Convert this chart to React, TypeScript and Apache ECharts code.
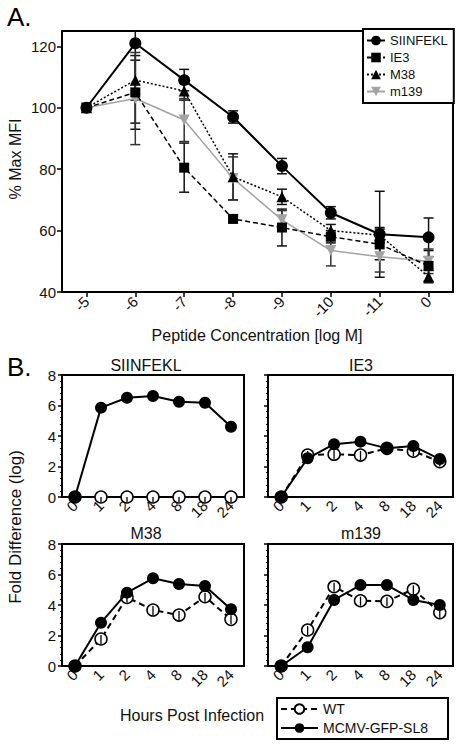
import React, { useEffect, useRef } from 'react';
import * as echarts from 'echarts';

// ---------- Panel A data ----------
const concCats = ['-5', '-6', '-7', '-8', '-9', '-10', '-11', '0'];
const siinfeklMean = [100, 121, 109, 97, 81, 65.8, 58.8, 57.8];
const siinfeklErr = [0, 26, 3.5, 2, 2.5, 2, 14, 6.3];
const ie3Mean = [100, 105, 80.5, 63.8, 61, 58, 55.5, 48.5];
const ie3Err = [0, 12, 8, 1, 6, 2, 5, 5];
const m38Mean = [100, 109, 105.5, 77.5, 71, 60, 58.5, 45];
const m38Err = [0, 6.5, 3, 7.5, 2.5, 2, 2.5, 2];
const m139Mean = [100, 103, 96, 77, 63.5, 53.5, 51.5, 50];
const m139Err = [0, 15, 7, 7, 3, 5, 5, 4];
const aTicks = [40, 60, 80, 100, 120];

// ---------- Panel B data ----------
const hourCats = ['0', '1', '2', '4', '8', '18', '24'];
const siinfeklWT = [0, 0, 0, 0, 0, 0, 0];
const siinfeklSL8 = [0, 5.86, 6.51, 6.62, 6.25, 6.18, 4.61];
const ie3WT = [0, 2.75, 2.8, 2.75, 3.19, 3.0, 2.32];
const ie3SL8 = [0, 2.54, 3.46, 3.63, 3.19, 3.34, 2.49];
const m38WT = [0, 1.77, 4.5, 3.67, 3.34, 4.54, 3.06];
const m38SL8 = [0, 2.84, 4.81, 5.75, 5.38, 5.25, 3.72];
const m139WT = [0, 2.36, 5.2, 4.28, 4.24, 5.03, 3.5];
const m139SL8 = [0, 1.23, 4.33, 5.31, 5.31, 4.33, 4.0];

const FONT = 'Liberation Sans, Arial, Helvetica, sans-serif';
const GRAY = '#a3a3a3';

function errorSeries(mean: number[], err: number[], color: string) {
  return {
    type: 'custom',
    xAxisIndex: 0,
    yAxisIndex: 0,
    silent: true,
    z: 1,
    data: mean.map((m, i) => [i, m, err[i]]),
    encode: { x: 0, y: 1 },
    renderItem: (params: any, api: any) => {
      const x = api.value(0);
      const m = api.value(1);
      const e = api.value(2);
      if (!e) return null;
      const hiV = Math.min(m + e, 125);
      const loV = Math.max(m - e, 40);
      const pHi = api.coord([x, hiV]);
      const pLo = api.coord([x, loV]);
      const st = { stroke: color, lineWidth: 1.5 };
      const children: any[] = [
        { type: 'line', shape: { x1: pHi[0], y1: pHi[1], x2: pLo[0], y2: pLo[1] }, style: st },
      ];
      if (m + e <= 125) {
        children.push({ type: 'line', shape: { x1: pHi[0] - 5, y1: pHi[1], x2: pHi[0] + 5, y2: pHi[1] }, style: st });
      }
      children.push({ type: 'line', shape: { x1: pLo[0] - 5, y1: pLo[1], x2: pLo[0] + 5, y2: pLo[1] }, style: st });
      return { type: 'group', children };
    },
  };
}

// small error-bar stroke drawn inside each open WT circle
function wtTickSeries(values: number[], idx: number) {
  return {
    type: 'custom',
    xAxisIndex: idx,
    yAxisIndex: idx,
    silent: true,
    z: 3,
    clip: false,
    data: values.map((v, i) => [i, v]),
    encode: { x: 0, y: 1 },
    renderItem: (params: any, api: any) => {
      const x = api.value(0);
      const v = api.value(1);
      if (x === 0) return null;
      const p = api.coord([x, v]);
      const up = v === 0 ? 0 : 4;
      return {
        type: 'line',
        shape: { x1: p[0], y1: p[1] - up, x2: p[0], y2: p[1] + 5 },
        style: { stroke: '#000', lineWidth: 1.3 },
      };
    },
  };
}

const bGrids = [
  { left: 62, top: 375, width: 182, height: 122 },
  { left: 268, top: 375, width: 185, height: 122 },
  { left: 62, top: 544, width: 182, height: 122 },
  { left: 268, top: 544, width: 185, height: 122 },
];
const bTitles = [
  { text: 'SIINFEKL', x: 146, y: 365 },
  { text: 'IE3', x: 361, y: 365 },
  { text: 'M38', x: 146, y: 533 },
  { text: 'm139', x: 361, y: 533 },
];
const bData = [
  [siinfeklWT, siinfeklSL8],
  [ie3WT, ie3SL8],
  [m38WT, m38SL8],
  [m139WT, m139SL8],
];

export default function App() {
  const ref = useRef<HTMLDivElement>(null);
  useEffect(() => {
    if (!ref.current) return;
    const chart = echarts.init(ref.current, undefined, { renderer: 'svg' });

    const grids: any[] = [
      { left: 62, top: 31, width: 391, height: 261, show: true, borderColor: '#000', borderWidth: 2, backgroundColor: 'transparent' },
      ...bGrids.map((g) => ({ ...g, show: true, borderColor: '#000', borderWidth: 2, backgroundColor: 'transparent' })),
    ];

    const xAxes: any[] = [
      {
        type: 'category', gridIndex: 0, data: concCats, boundaryGap: true,
        axisLine: { lineStyle: { color: '#000', width: 2 } },
        axisTick: { show: true, alignWithLabel: true, length: 5, lineStyle: { color: '#000', width: 1.5 } },
        axisLabel: { rotate: 45, fontSize: 15, color: '#111', margin: 7, interval: 0, fontFamily: FONT },
      },
      ...bGrids.map((_, i) => ({
        type: 'category', gridIndex: i + 1, data: hourCats, boundaryGap: true,
        axisLine: { lineStyle: { color: '#000', width: 2 } },
        axisTick: { show: false },
        axisLabel: { rotate: 45, fontSize: 15, color: '#111', margin: 6, interval: 0, fontFamily: FONT },
      })),
    ];

    const yAxes: any[] = [
      {
        type: 'value', gridIndex: 0, min: 40, max: 125,
        splitLine: { show: false },
        axisLine: { show: true, lineStyle: { color: '#000', width: 2 } },
        axisTick: { show: true, length: 5, customValues: aTicks, lineStyle: { color: '#000', width: 1.5 } },
        axisLabel: { fontSize: 15, color: '#111', margin: 6, customValues: aTicks, fontFamily: FONT },
      },
      ...bGrids.map((_, i) => ({
        type: 'value', gridIndex: i + 1, min: 0, max: 8, interval: 2,
        splitLine: { show: false },
        axisLine: { show: true, lineStyle: { color: '#000', width: 2 } },
        axisTick: { show: true, length: 4, lineStyle: { color: '#000', width: 1.5 } },
        minorTick: { show: true, splitNumber: 5, length: 2, lineStyle: { color: '#000', width: 1 } },
        axisLabel: { show: i % 2 === 0, fontSize: 15, color: '#111', margin: 6, fontFamily: FONT },
      })),
    ];

    const series: any[] = [
      errorSeries(siinfeklMean, siinfeklErr, '#111'),
      errorSeries(ie3Mean, ie3Err, '#111'),
      errorSeries(m38Mean, m38Err, '#111'),
      errorSeries(m139Mean, m139Err, '#333'),
      {
        name: 'm139', type: 'line', xAxisIndex: 0, yAxisIndex: 0, data: m139Mean, z: 2,
        symbol: 'triangle', symbolRotate: 180, symbolSize: 11,
        lineStyle: { color: GRAY, width: 1.5, type: 'solid' }, itemStyle: { color: GRAY },
      },
      {
        name: 'M38', type: 'line', xAxisIndex: 0, yAxisIndex: 0, data: m38Mean, z: 3,
        symbol: 'triangle', symbolSize: 11,
        lineStyle: { color: '#000', width: 1.5, type: [2, 2] }, itemStyle: { color: '#000' },
      },
      {
        name: 'IE3', type: 'line', xAxisIndex: 0, yAxisIndex: 0, data: ie3Mean, z: 4,
        symbol: 'rect', symbolSize: 10,
        lineStyle: { color: '#000', width: 1.5, type: [5, 3] }, itemStyle: { color: '#000' },
      },
      {
        name: 'SIINFEKL', type: 'line', xAxisIndex: 0, yAxisIndex: 0, data: siinfeklMean, z: 5,
        symbol: 'circle', symbolSize: 12,
        lineStyle: { color: '#000', width: 2, type: 'solid' }, itemStyle: { color: '#000' },
      },
    ];

    bData.forEach(([wt, sl8], i) => {
      series.push({
        name: 'WT', type: 'line', xAxisIndex: i + 1, yAxisIndex: i + 1, data: wt, z: 2,
        symbol: 'circle', symbolSize: 12, clip: false,
        lineStyle: { color: '#000', width: 2, type: [6, 4] },
        itemStyle: { color: '#fff', borderColor: '#000', borderWidth: 1.5 },
      });
      series.push(wtTickSeries(wt, i + 1));
      series.push({
        name: 'MCMV-GFP-SL8', type: 'line', xAxisIndex: i + 1, yAxisIndex: i + 1, data: sl8, z: 4,
        symbol: 'circle', symbolSize: 12, clip: false,
        lineStyle: { color: '#000', width: 2, type: 'solid' },
        itemStyle: { color: '#000' },
      });
    });

    const graphic: any[] = [
      { type: 'text', x: 7, y: 17, style: { text: 'A.', fontSize: 26, fontFamily: FONT, fill: '#000', textVerticalAlign: 'middle' } },
      { type: 'text', x: 7, y: 367, style: { text: 'B.', fontSize: 26, fontFamily: FONT, fill: '#000', textVerticalAlign: 'middle' } },
      { type: 'text', x: 15, y: 159, rotation: Math.PI / 2, style: { text: '% Max MFI', fontSize: 16, fontFamily: FONT, fill: '#111', textAlign: 'center', textVerticalAlign: 'middle' } },
      { type: 'text', x: 257, y: 335, style: { text: 'Peptide Concentration [log M]', fontSize: 16, fontFamily: FONT, fill: '#111', textAlign: 'center', textVerticalAlign: 'middle' } },
      { type: 'text', x: 15, y: 527, rotation: Math.PI / 2, style: { text: 'Fold Difference (log)', fontSize: 17, fontFamily: FONT, fill: '#111', textAlign: 'center', textVerticalAlign: 'middle' } },
      { type: 'text', x: 192, y: 715, style: { text: 'Hours Post Infection', fontSize: 16, fontFamily: FONT, fill: '#111', textAlign: 'center', textVerticalAlign: 'middle' } },
      ...bTitles.map((t) => ({ type: 'text', x: t.x, y: t.y, style: { text: t.text, fontSize: 16, fontFamily: FONT, fill: '#111', textAlign: 'center', textVerticalAlign: 'middle' } })),
    ];

    chart.setOption({
      animation: false,
      backgroundColor: '#fff',
      textStyle: { fontFamily: FONT },
      grid: grids,
      xAxis: xAxes,
      yAxis: yAxes,
      series,
      graphic,
      legend: [
        {
          data: ['SIINFEKL', 'IE3', 'M38', 'm139'],
          orient: 'vertical', left: 363, top: 29,
          itemWidth: 18, itemHeight: 12, itemGap: 4,
          padding: [5, 6, 5, 3],
          borderColor: '#000', borderWidth: 2, backgroundColor: '#fff',
          textStyle: { fontSize: 13, color: '#111', fontFamily: FONT },
          selectedMode: false,
        },
        {
          data: ['WT', 'MCMV-GFP-SL8'],
          orient: 'vertical', left: 277, top: 698,
          itemWidth: 37, itemHeight: 12, itemGap: 5,
          padding: [4, 20, 4, 3],
          borderColor: '#000', borderWidth: 2, backgroundColor: '#fff',
          textStyle: { fontSize: 14, color: '#111', fontFamily: FONT },
          selectedMode: false,
        },
      ],
    });
    return () => chart.dispose();
  }, []);
  return <div ref={ref} style={{ position: 'fixed', left: 0, top: 0, width: 461, height: 744 }} />;
}
